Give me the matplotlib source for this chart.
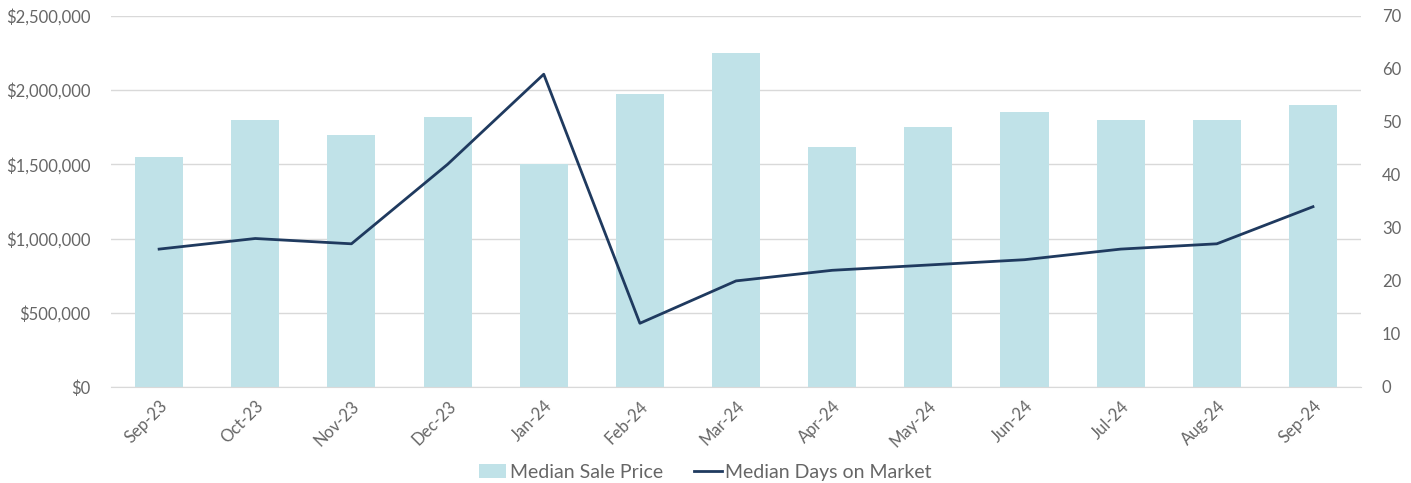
import matplotlib.pyplot as plt
import matplotlib.ticker as mticker
import numpy as np

months = ["Sep-23", "Oct-23", "Nov-23", "Dec-23", "Jan-24", "Feb-24", "Mar-24",
          "Apr-24", "May-24", "Jun-24", "Jul-24", "Aug-24", "Sep-24"]
sale_price = [1550000, 1800000, 1700000, 1820000, 1500000, 1975000, 2250000,
              1620000, 1750000, 1850000, 1800000, 1800000, 1900000]
days_on_market = [26, 28, 27, 42, 59, 12, 20, 22, 23, 24, 26, 27, 34]

plt.rcParams['font.family'] = ['Lato', 'DejaVu Sans']
grey = '#666666'

fig = plt.figure(figsize=(14.11, 4.83), dpi=100)
ax = fig.add_axes([0.0787, 0.199, 0.8859, 0.768])
ax2 = ax.twinx()

x = np.arange(len(months))
ax.bar(x, sale_price, width=0.5, color='#c0e2e8', label='Median Sale Price', zorder=2)
ax2.plot(x, days_on_market, color='#1f3a5f', lw=2, label='Median Days on Market')

ax.set_xlim(-0.5, len(months) - 0.5)
ax.set_ylim(0, 2500000)
ax2.set_ylim(0, 70)
ax.set_yticks(np.arange(0, 2500001, 500000))
ax2.set_yticks(np.arange(0, 71, 10))
ax.yaxis.set_major_formatter(mticker.FuncFormatter(lambda v, p: "${:,.0f}".format(v)))
ax.grid(axis='y', color='#d9d9d9', lw=1, zorder=0)
ax.set_axisbelow(True)

ax.set_xticks(x)
ax.set_xticklabels(months, rotation=45, ha='right', rotation_mode='anchor')

for a in (ax, ax2):
    for s in a.spines.values():
        s.set_visible(False)
    a.tick_params(length=0, colors=grey, labelsize=12)
ax.spines['bottom'].set_visible(True)
ax.spines['bottom'].set_color('#d9d9d9')
ax.tick_params(axis='y', pad=15)
ax2.tick_params(axis='y', pad=15)
ax.tick_params(axis='x', pad=8)

h1, l1 = ax.get_legend_handles_labels()
h2, l2 = ax2.get_legend_handles_labels()
fig.legend(h1 + h2, l1 + l2, loc='center', bbox_to_anchor=(0.5, 0.022), ncol=2,
           frameon=False, fontsize=14, labelcolor=grey, handlelength=1.4,
           handletextpad=0.2, columnspacing=1.6)

fig.savefig('out.png', dpi=100)
